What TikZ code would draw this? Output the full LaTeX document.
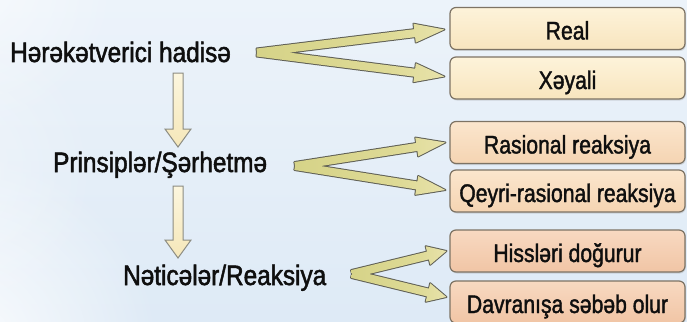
\documentclass[tikz,border=0pt]{standalone}
\usepackage{fontspec}
\setmainfont{Liberation Sans}
\newfontfamily\lfont{Liberation Sans}[FakeStretch=0.87,FakeBold=1.8]
\newfontfamily\bfont{Liberation Sans}[FakeStretch=0.83,FakeBold=1.5]
\usetikzlibrary{calc,fadings,shadows}
\tikzfading[name=blobfade, inner color=transparent!0, outer color=transparent!100]
\definecolor{bgtop}{RGB}{236,243,250}
\definecolor{bgbot}{RGB}{222,234,246}
\definecolor{txt}{RGB}{15,15,15}
\definecolor{boxline}{RGB}{125,115,100}
\definecolor{bAt}{RGB}{253,243,218}
\definecolor{bAb}{RGB}{248,229,190}
\definecolor{bBt}{RGB}{251,230,205}
\definecolor{bBb}{RGB}{245,212,178}
\definecolor{bCt}{RGB}{248,217,193}
\definecolor{bCb}{RGB}{241,197,165}
\definecolor{chevA}{RGB}{208,206,126}
\definecolor{chevA2}{RGB}{222,218,150}
\definecolor{chevB}{RGB}{248,240,205}
\definecolor{chevline}{RGB}{95,95,85}
\definecolor{dAt}{RGB}{252,246,222}
\definecolor{dAb}{RGB}{245,231,185}
\definecolor{dline}{RGB}{140,140,130}
\pgfdeclarehorizontalshading{chevsh}{100bp}{color(0bp)=(chevA); color(60bp)=(chevA2); color(100bp)=(chevB)}
\newcommand\mkhead[4]{\coordinate (#4) at ($(#2)!#3!(#1)$);}
\newcommand\armp[3]{($(#1)!4pt!90:(#2)$) -- ($(#3)!4pt!90:(#2)$) -- ($(#3)!9.5pt!90:(#2)$) -- (#2) -- ($(#3)!9.5pt!-90:(#2)$) -- ($(#3)!4pt!-90:(#2)$) -- ($(#1)!4pt!-90:(#2)$) -- cycle}
\newcommand\darp[2]{($(#1)+(-5,0)$) -- ($(#2)+(-5,-18)$) -- ($(#2)+(-13,-18)$) -- (#2) -- ($(#2)+(13,-18)$) -- ($(#2)+(5,-18)$) -- ($(#1)+(5,0)$) -- cycle}
\begin{document}
\begin{tikzpicture}[x=1pt,y=-1pt,
  lbl/.style={anchor=base west, inner sep=0pt, text=txt, font=\lfont\fontsize{28}{32}\selectfont},
  box/.style={draw=boxline, line width=1.2pt, rounded corners=6pt, minimum width=235pt, minimum height=42pt,
    inner sep=0pt, text height=22pt, text depth=0pt, text=txt, font=\bfont\fontsize{25.5}{30}\selectfont,
    drop shadow={shadow xshift=0.8pt, shadow yshift=-1.5pt, opacity=0.25}},
  boxA/.style={box, top color=bAt, bottom color=bAb},
  boxB/.style={box, top color=bBt, bottom color=bBb},
  boxC/.style={box, top color=bCt, bottom color=bCb},
  chevout/.style={draw=chevline, line width=2pt, line join=round},
  chevin/.style={shading=chevsh},
  darrow/.style={draw=dline, line width=1pt, top color=dAt, bottom color=dAb}]
\useasboundingbox (0,0) rectangle (687,321);
\clip (0,0) rectangle (687,321);
% background
\shade[top color=bgtop, bottom color=bgbot] (0,0) rectangle (687,321);
\fill[white, path fading=blobfade, opacity=0.9] (-40,350) circle (200);
\fill[white, path fading=blobfade, opacity=0.6] (-30,-20) circle (150);
\fill[white, path fading=blobfade, opacity=0.4] (-60,170) circle (160);
% boxes
\node[boxA] (b1) at (567.5,28.5) {Real};
\node[boxA] (b2) at (567.5,78) {Xəyali};
\node[boxB] (b3) at (567.5,142.5) {Rasional reaksiya};
\node[boxB] (b4) at (567.5,191) {Qeyri-rasional reaksiya};
\node[boxC] (b5) at (567.5,251) {Hissləri doğurur};
\node[boxC] (b6) at (567.5,302) {Davranışa səbəb olur};
% labels
\node[lbl] (l1) at (10,62) {Hərəkətverici hadisə};
\node[lbl] (l2) at (53,172) {Prinsiplər/Şərhetmə};
\node[lbl] (l3) at (123,285) {Nəticələr/Reaksiya};
% down arrows
\coordinate (d1s) at (178,73); \coordinate (d1e) at (178,147);
\coordinate (d2s) at (178,186); \coordinate (d2e) at (178,258);
\draw[darrow] \darp{d1s}{d1e};
\draw[darrow] \darp{d2s}{d2e};
% chevron 1
\coordinate (v1) at (257,52.5);
\coordinate (t1a) at ($(b1.west)+(-5,1)$);
\coordinate (t1b) at ($(b2.west)+(-5,-1.5)$);
\mkhead{v1}{t1a}{30pt}{h1a}\mkhead{v1}{t1b}{30pt}{h1b}
\path[chevout] \armp{v1}{t1a}{h1a} \armp{v1}{t1b}{h1b};
\path[chevin] \armp{v1}{t1a}{h1a} \armp{v1}{t1b}{h1b};
% chevron 2
\coordinate (v2) at (295,166);
\coordinate (t2a) at ($(b3.west)+(-4,0)$);
\coordinate (t2b) at ($(b4.west)+(-4,-1)$);
\mkhead{v2}{t2a}{29pt}{h2a}\mkhead{v2}{t2b}{29pt}{h2b}
\path[chevout] \armp{v2}{t2a}{h2a} \armp{v2}{t2b}{h2b};
\path[chevin] \armp{v2}{t2a}{h2a} \armp{v2}{t2b}{h2b};
% chevron 3
\coordinate (v3) at (352,274);
\coordinate (t3a) at ($(b5.west)+(-3,0)$);
\coordinate (t3b) at ($(b6.west)+(-3,-5)$);
\mkhead{v3}{t3a}{19pt}{h3a}\mkhead{v3}{t3b}{19pt}{h3b}
\path[chevout] \armp{v3}{t3a}{h3a} \armp{v3}{t3b}{h3b};
\path[chevin] \armp{v3}{t3a}{h3a} \armp{v3}{t3b}{h3b};
\end{tikzpicture}
\end{document}
